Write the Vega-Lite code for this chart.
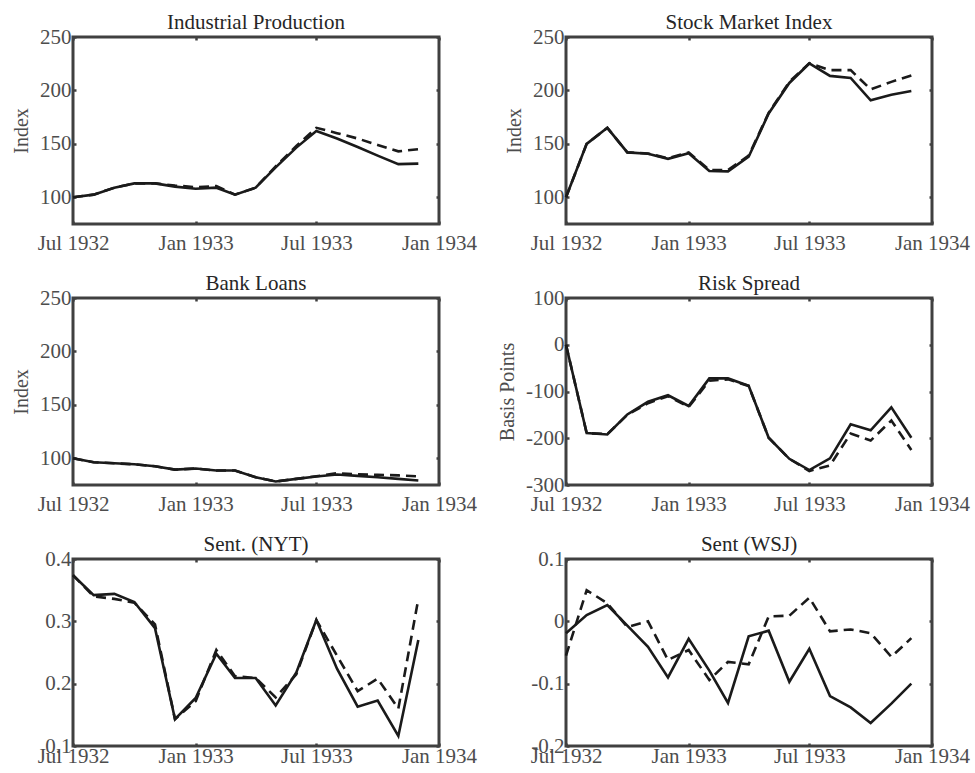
{
  "$schema": "https://vega.github.io/schema/vega-lite/v6.json",
  "padding": {"left": 10, "top": 10, "right": 5, "bottom": 5},
  "background": "white",
  "bounds": "flush",
  "columns": 2,
  "spacing": {"row": 74, "column": 127},
  "data": {
    "values": [
      {"panel": "IP", "date": "1932/07/01", "solid": 100, "dashed": 100},
      {"panel": "IP", "date": "1932/08/01", "solid": 102.5, "dashed": 102.5},
      {"panel": "IP", "date": "1932/09/01", "solid": 109, "dashed": 109},
      {"panel": "IP", "date": "1932/10/01", "solid": 113, "dashed": 113},
      {"panel": "IP", "date": "1932/11/01", "solid": 113, "dashed": 113},
      {"panel": "IP", "date": "1932/12/01", "solid": 110, "dashed": 111},
      {"panel": "IP", "date": "1933/01/01", "solid": 108, "dashed": 109.5},
      {"panel": "IP", "date": "1933/02/01", "solid": 109, "dashed": 110.5},
      {"panel": "IP", "date": "1933/03/01", "solid": 102.5, "dashed": 102.5},
      {"panel": "IP", "date": "1933/04/01", "solid": 109, "dashed": 109},
      {"panel": "IP", "date": "1933/05/01", "solid": 128, "dashed": 129},
      {"panel": "IP", "date": "1933/06/01", "solid": 146.5, "dashed": 148},
      {"panel": "IP", "date": "1933/07/01", "solid": 162, "dashed": 165},
      {"panel": "IP", "date": "1933/08/01", "solid": 155, "dashed": 160},
      {"panel": "IP", "date": "1933/09/01", "solid": 147, "dashed": 155},
      {"panel": "IP", "date": "1933/10/01", "solid": 139, "dashed": 149},
      {"panel": "IP", "date": "1933/11/01", "solid": 131, "dashed": 143},
      {"panel": "IP", "date": "1933/12/01", "solid": 131.5, "dashed": 145},

      {"panel": "SMI", "date": "1932/07/01", "solid": 100, "dashed": 100},
      {"panel": "SMI", "date": "1932/08/01", "solid": 150, "dashed": 150},
      {"panel": "SMI", "date": "1932/09/01", "solid": 165, "dashed": 165},
      {"panel": "SMI", "date": "1932/10/01", "solid": 142, "dashed": 142},
      {"panel": "SMI", "date": "1932/11/01", "solid": 140.7, "dashed": 141},
      {"panel": "SMI", "date": "1932/12/01", "solid": 136, "dashed": 136.5},
      {"panel": "SMI", "date": "1933/01/01", "solid": 141.3, "dashed": 142},
      {"panel": "SMI", "date": "1933/02/01", "solid": 124.6, "dashed": 125.5},
      {"panel": "SMI", "date": "1933/03/01", "solid": 124.3, "dashed": 125.5},
      {"panel": "SMI", "date": "1933/04/01", "solid": 138, "dashed": 139},
      {"panel": "SMI", "date": "1933/05/01", "solid": 178.4, "dashed": 179},
      {"panel": "SMI", "date": "1933/06/01", "solid": 207, "dashed": 208},
      {"panel": "SMI", "date": "1933/07/01", "solid": 225.2, "dashed": 225.5},
      {"panel": "SMI", "date": "1933/08/01", "solid": 213.6, "dashed": 219},
      {"panel": "SMI", "date": "1933/09/01", "solid": 211.7, "dashed": 219},
      {"panel": "SMI", "date": "1933/10/01", "solid": 190.8, "dashed": 201},
      {"panel": "SMI", "date": "1933/11/01", "solid": 196, "dashed": 208},
      {"panel": "SMI", "date": "1933/12/01", "solid": 199.4, "dashed": 214},

      {"panel": "BL", "date": "1932/07/01", "solid": 100, "dashed": 100},
      {"panel": "BL", "date": "1932/08/01", "solid": 96.3, "dashed": 96.3},
      {"panel": "BL", "date": "1932/09/01", "solid": 95.3, "dashed": 95.3},
      {"panel": "BL", "date": "1932/10/01", "solid": 94.4, "dashed": 94.4},
      {"panel": "BL", "date": "1932/11/01", "solid": 92.5, "dashed": 92.5},
      {"panel": "BL", "date": "1932/12/01", "solid": 89.4, "dashed": 89.4},
      {"panel": "BL", "date": "1933/01/01", "solid": 90.4, "dashed": 90.4},
      {"panel": "BL", "date": "1933/02/01", "solid": 88.5, "dashed": 88.5},
      {"panel": "BL", "date": "1933/03/01", "solid": 88.5, "dashed": 88.5},
      {"panel": "BL", "date": "1933/04/01", "solid": 82.3, "dashed": 82.3},
      {"panel": "BL", "date": "1933/05/01", "solid": 78.3, "dashed": 78.3},
      {"panel": "BL", "date": "1933/06/01", "solid": 80.7, "dashed": 80.7},
      {"panel": "BL", "date": "1933/07/01", "solid": 82.9, "dashed": 83.2},
      {"panel": "BL", "date": "1933/08/01", "solid": 84.8, "dashed": 86},
      {"panel": "BL", "date": "1933/09/01", "solid": 83.5, "dashed": 85},
      {"panel": "BL", "date": "1933/10/01", "solid": 82.3, "dashed": 84.5},
      {"panel": "BL", "date": "1933/11/01", "solid": 80.7, "dashed": 84},
      {"panel": "BL", "date": "1933/12/01", "solid": 79.2, "dashed": 83},

      {"panel": "RS", "date": "1932/07/01", "solid": 0, "dashed": 0},
      {"panel": "RS", "date": "1932/08/01", "solid": -189, "dashed": -189},
      {"panel": "RS", "date": "1932/09/01", "solid": -192, "dashed": -191},
      {"panel": "RS", "date": "1932/10/01", "solid": -149, "dashed": -150},
      {"panel": "RS", "date": "1932/11/01", "solid": -122, "dashed": -125},
      {"panel": "RS", "date": "1932/12/01", "solid": -108, "dashed": -110},
      {"panel": "RS", "date": "1933/01/01", "solid": -131, "dashed": -133},
      {"panel": "RS", "date": "1933/02/01", "solid": -72, "dashed": -77},
      {"panel": "RS", "date": "1933/03/01", "solid": -72, "dashed": -74},
      {"panel": "RS", "date": "1933/04/01", "solid": -88, "dashed": -88},
      {"panel": "RS", "date": "1933/05/01", "solid": -199, "dashed": -199},
      {"panel": "RS", "date": "1933/06/01", "solid": -244, "dashed": -244},
      {"panel": "RS", "date": "1933/07/01", "solid": -268, "dashed": -270},
      {"panel": "RS", "date": "1933/08/01", "solid": -243, "dashed": -258},
      {"panel": "RS", "date": "1933/09/01", "solid": -170, "dashed": -190},
      {"panel": "RS", "date": "1933/10/01", "solid": -183, "dashed": -205},
      {"panel": "RS", "date": "1933/11/01", "solid": -134, "dashed": -162},
      {"panel": "RS", "date": "1933/12/01", "solid": -199, "dashed": -225},

      {"panel": "NYT", "date": "1932/07/01", "solid": 0.374, "dashed": 0.374},
      {"panel": "NYT", "date": "1932/08/01", "solid": 0.342, "dashed": 0.340},
      {"panel": "NYT", "date": "1932/09/01", "solid": 0.344, "dashed": 0.336},
      {"panel": "NYT", "date": "1932/10/01", "solid": 0.331, "dashed": 0.330},
      {"panel": "NYT", "date": "1932/11/01", "solid": 0.289, "dashed": 0.295},
      {"panel": "NYT", "date": "1932/12/01", "solid": 0.143, "dashed": 0.143},
      {"panel": "NYT", "date": "1933/01/01", "solid": 0.177, "dashed": 0.172},
      {"panel": "NYT", "date": "1933/02/01", "solid": 0.248, "dashed": 0.254},
      {"panel": "NYT", "date": "1933/03/01", "solid": 0.209, "dashed": 0.212},
      {"panel": "NYT", "date": "1933/04/01", "solid": 0.209, "dashed": 0.209},
      {"panel": "NYT", "date": "1933/05/01", "solid": 0.165, "dashed": 0.178},
      {"panel": "NYT", "date": "1933/06/01", "solid": 0.218, "dashed": 0.215},
      {"panel": "NYT", "date": "1933/07/01", "solid": 0.302, "dashed": 0.302},
      {"panel": "NYT", "date": "1933/08/01", "solid": 0.224, "dashed": 0.245},
      {"panel": "NYT", "date": "1933/09/01", "solid": 0.163, "dashed": 0.188},
      {"panel": "NYT", "date": "1933/10/01", "solid": 0.173, "dashed": 0.208},
      {"panel": "NYT", "date": "1933/11/01", "solid": 0.116, "dashed": 0.160},
      {"panel": "NYT", "date": "1933/12/01", "solid": 0.270, "dashed": 0.336},

      {"panel": "WSJ", "date": "1932/07/01", "solid": -0.019, "dashed": -0.055},
      {"panel": "WSJ", "date": "1932/08/01", "solid": 0.010, "dashed": 0.050},
      {"panel": "WSJ", "date": "1932/09/01", "solid": 0.026, "dashed": 0.029},
      {"panel": "WSJ", "date": "1932/10/01", "solid": -0.007, "dashed": -0.009},
      {"panel": "WSJ", "date": "1932/11/01", "solid": -0.041, "dashed": 0.000},
      {"panel": "WSJ", "date": "1932/12/01", "solid": -0.090, "dashed": -0.062},
      {"panel": "WSJ", "date": "1933/01/01", "solid": -0.028, "dashed": -0.046},
      {"panel": "WSJ", "date": "1933/02/01", "solid": -0.079, "dashed": -0.094},
      {"panel": "WSJ", "date": "1933/03/01", "solid": -0.131, "dashed": -0.065},
      {"panel": "WSJ", "date": "1933/04/01", "solid": -0.024, "dashed": -0.069},
      {"panel": "WSJ", "date": "1933/05/01", "solid": -0.015, "dashed": 0.008},
      {"panel": "WSJ", "date": "1933/06/01", "solid": -0.097, "dashed": 0.009},
      {"panel": "WSJ", "date": "1933/07/01", "solid": -0.044, "dashed": 0.038},
      {"panel": "WSJ", "date": "1933/08/01", "solid": -0.120, "dashed": -0.016},
      {"panel": "WSJ", "date": "1933/09/01", "solid": -0.138, "dashed": -0.013},
      {"panel": "WSJ", "date": "1933/10/01", "solid": -0.163, "dashed": -0.019},
      {"panel": "WSJ", "date": "1933/11/01", "solid": -0.132, "dashed": -0.057},
      {"panel": "WSJ", "date": "1933/12/01", "solid": -0.100, "dashed": -0.027}
    ],
    "format": {"parse": {"date": "date"}}
  },
  "concat": [
    {
      "title": "Industrial Production",
      "width": 366, "height": 187,
      "transform": [{"filter": "datum.panel === 'IP'"}],
      "layer": [
        {"mark": {"type": "line", "strokeDash": [10, 6]},
         "encoding": {
           "x": {"field": "date", "type": "temporal", "scale": {"domain": [{"year": 1932, "month": 7, "date": 1}, {"year": 1934, "month": 1, "date": 1}]}, "axis": {"orient": "top", "labels": false, "title": null, "values": [{"year": 1932, "month": 7, "date": 1}, {"year": 1933, "month": 1, "date": 1}, {"year": 1933, "month": 7, "date": 1}, {"year": 1934, "month": 1, "date": 1}]}},
           "y": {"field": "dashed", "type": "quantitative", "scale": {"domain": [75, 250], "nice": false, "zero": false}, "axis": {"orient": "right", "labels": false, "title": null, "values": [100, 150, 200, 250]}}}},
        {"mark": {"type": "line"},
         "encoding": {
           "x": {"field": "date", "type": "temporal", "axis": {"orient": "bottom", "format": "%b %Y", "title": null, "values": [{"year": 1932, "month": 7, "date": 1}, {"year": 1933, "month": 1, "date": 1}, {"year": 1933, "month": 7, "date": 1}, {"year": 1934, "month": 1, "date": 1}]}},
           "y": {"field": "solid", "type": "quantitative", "axis": {"orient": "left", "title": "Index", "labelExpr": "'' + datum.value", "values": [100, 150, 200, 250]}}}}
      ],
      "resolve": {"axis": {"x": "independent", "y": "independent"}}
    },
    {
      "title": "Stock Market Index",
      "width": 366, "height": 187,
      "transform": [{"filter": "datum.panel === 'SMI'"}],
      "layer": [
        {"mark": {"type": "line", "strokeDash": [10, 6]},
         "encoding": {
           "x": {"field": "date", "type": "temporal", "scale": {"domain": [{"year": 1932, "month": 7, "date": 1}, {"year": 1934, "month": 1, "date": 1}]}, "axis": {"orient": "top", "labels": false, "title": null, "values": [{"year": 1932, "month": 7, "date": 1}, {"year": 1933, "month": 1, "date": 1}, {"year": 1933, "month": 7, "date": 1}, {"year": 1934, "month": 1, "date": 1}]}},
           "y": {"field": "dashed", "type": "quantitative", "scale": {"domain": [75, 250], "nice": false, "zero": false}, "axis": {"orient": "right", "labels": false, "title": null, "values": [100, 150, 200, 250]}}}},
        {"mark": {"type": "line"},
         "encoding": {
           "x": {"field": "date", "type": "temporal", "axis": {"orient": "bottom", "format": "%b %Y", "title": null, "values": [{"year": 1932, "month": 7, "date": 1}, {"year": 1933, "month": 1, "date": 1}, {"year": 1933, "month": 7, "date": 1}, {"year": 1934, "month": 1, "date": 1}]}},
           "y": {"field": "solid", "type": "quantitative", "axis": {"orient": "left", "title": "Index", "labelExpr": "'' + datum.value", "values": [100, 150, 200, 250]}}}}
      ],
      "resolve": {"axis": {"x": "independent", "y": "independent"}}
    },
    {
      "title": "Bank Loans",
      "width": 366, "height": 187,
      "transform": [{"filter": "datum.panel === 'BL'"}],
      "layer": [
        {"mark": {"type": "line", "strokeDash": [10, 6]},
         "encoding": {
           "x": {"field": "date", "type": "temporal", "scale": {"domain": [{"year": 1932, "month": 7, "date": 1}, {"year": 1934, "month": 1, "date": 1}]}, "axis": {"orient": "top", "labels": false, "title": null, "values": [{"year": 1932, "month": 7, "date": 1}, {"year": 1933, "month": 1, "date": 1}, {"year": 1933, "month": 7, "date": 1}, {"year": 1934, "month": 1, "date": 1}]}},
           "y": {"field": "dashed", "type": "quantitative", "scale": {"domain": [75, 250], "nice": false, "zero": false}, "axis": {"orient": "right", "labels": false, "title": null, "values": [100, 150, 200, 250]}}}},
        {"mark": {"type": "line"},
         "encoding": {
           "x": {"field": "date", "type": "temporal", "axis": {"orient": "bottom", "format": "%b %Y", "title": null, "values": [{"year": 1932, "month": 7, "date": 1}, {"year": 1933, "month": 1, "date": 1}, {"year": 1933, "month": 7, "date": 1}, {"year": 1934, "month": 1, "date": 1}]}},
           "y": {"field": "solid", "type": "quantitative", "axis": {"orient": "left", "title": "Index", "labelExpr": "'' + datum.value", "values": [100, 150, 200, 250]}}}}
      ],
      "resolve": {"axis": {"x": "independent", "y": "independent"}}
    },
    {
      "title": "Risk Spread",
      "width": 366, "height": 187,
      "transform": [{"filter": "datum.panel === 'RS'"}],
      "layer": [
        {"mark": {"type": "line", "strokeDash": [10, 6]},
         "encoding": {
           "x": {"field": "date", "type": "temporal", "scale": {"domain": [{"year": 1932, "month": 7, "date": 1}, {"year": 1934, "month": 1, "date": 1}]}, "axis": {"orient": "top", "labels": false, "title": null, "values": [{"year": 1932, "month": 7, "date": 1}, {"year": 1933, "month": 1, "date": 1}, {"year": 1933, "month": 7, "date": 1}, {"year": 1934, "month": 1, "date": 1}]}},
           "y": {"field": "dashed", "type": "quantitative", "scale": {"domain": [-300, 100], "nice": false, "zero": false}, "axis": {"orient": "right", "labels": false, "title": null, "values": [-300, -200, -100, 0, 100]}}}},
        {"mark": {"type": "line"},
         "encoding": {
           "x": {"field": "date", "type": "temporal", "axis": {"orient": "bottom", "format": "%b %Y", "title": null, "values": [{"year": 1932, "month": 7, "date": 1}, {"year": 1933, "month": 1, "date": 1}, {"year": 1933, "month": 7, "date": 1}, {"year": 1934, "month": 1, "date": 1}]}},
           "y": {"field": "solid", "type": "quantitative", "axis": {"orient": "left", "title": "Basis Points", "labelExpr": "'' + datum.value", "values": [-300, -200, -100, 0, 100]}}}}
      ],
      "resolve": {"axis": {"x": "independent", "y": "independent"}}
    },
    {
      "title": "Sent. (NYT)",
      "width": 366, "height": 187,
      "transform": [{"filter": "datum.panel === 'NYT'"}],
      "layer": [
        {"mark": {"type": "line", "strokeDash": [10, 6]},
         "encoding": {
           "x": {"field": "date", "type": "temporal", "scale": {"domain": [{"year": 1932, "month": 7, "date": 1}, {"year": 1934, "month": 1, "date": 1}]}, "axis": {"orient": "top", "labels": false, "title": null, "values": [{"year": 1932, "month": 7, "date": 1}, {"year": 1933, "month": 1, "date": 1}, {"year": 1933, "month": 7, "date": 1}, {"year": 1934, "month": 1, "date": 1}]}},
           "y": {"field": "dashed", "type": "quantitative", "scale": {"domain": [0.1, 0.4], "nice": false, "zero": false}, "axis": {"orient": "right", "labels": false, "title": null, "values": [0.1, 0.2, 0.3, 0.4]}}}},
        {"mark": {"type": "line"},
         "encoding": {
           "x": {"field": "date", "type": "temporal", "axis": {"orient": "bottom", "format": "%b %Y", "title": null, "labelPadding": 2, "values": [{"year": 1932, "month": 7, "date": 1}, {"year": 1933, "month": 1, "date": 1}, {"year": 1933, "month": 7, "date": 1}, {"year": 1934, "month": 1, "date": 1}]}},
           "y": {"field": "solid", "type": "quantitative", "axis": {"orient": "left", "title": null, "labelExpr": "'' + datum.value", "values": [0.1, 0.2, 0.3, 0.4]}}}}
      ],
      "resolve": {"axis": {"x": "independent", "y": "independent"}}
    },
    {
      "title": "Sent (WSJ)",
      "width": 366, "height": 187,
      "transform": [{"filter": "datum.panel === 'WSJ'"}],
      "layer": [
        {"mark": {"type": "line", "strokeDash": [10, 6]},
         "encoding": {
           "x": {"field": "date", "type": "temporal", "scale": {"domain": [{"year": 1932, "month": 7, "date": 1}, {"year": 1934, "month": 1, "date": 1}]}, "axis": {"orient": "top", "labels": false, "title": null, "values": [{"year": 1932, "month": 7, "date": 1}, {"year": 1933, "month": 1, "date": 1}, {"year": 1933, "month": 7, "date": 1}, {"year": 1934, "month": 1, "date": 1}]}},
           "y": {"field": "dashed", "type": "quantitative", "scale": {"domain": [-0.2, 0.1], "nice": false, "zero": false}, "axis": {"orient": "right", "labels": false, "title": null, "values": [-0.2, -0.1, 0, 0.1]}}}},
        {"mark": {"type": "line"},
         "encoding": {
           "x": {"field": "date", "type": "temporal", "axis": {"orient": "bottom", "format": "%b %Y", "title": null, "labelPadding": 2, "values": [{"year": 1932, "month": 7, "date": 1}, {"year": 1933, "month": 1, "date": 1}, {"year": 1933, "month": 7, "date": 1}, {"year": 1934, "month": 1, "date": 1}]}},
           "y": {"field": "solid", "type": "quantitative", "axis": {"orient": "left", "title": null, "labelExpr": "'' + datum.value", "values": [-0.2, -0.1, 0, 0.1]}}}}
      ],
      "resolve": {"axis": {"x": "independent", "y": "independent"}}
    }
  ],
  "config": {
    "font": "Liberation Serif",
    "view": {"stroke": "#404040", "strokeWidth": 3},
    "axis": {
      "domain": false, "grid": false,
      "tickSize": -3, "tickWidth": 2.5, "tickColor": "#404040",
      "labelFont": "Liberation Serif", "labelFontSize": 21, "labelColor": "#4d4d4d",
      "labelFlush": false, "labelOverlap": false, "labelPadding": 11.5,
      "titleFont": "Liberation Serif", "titleFontSize": 20, "titleFontWeight": "normal", "titleColor": "#4d4d4d", "titlePadding": 8
    },
    "axisY": {"labelPadding": 5},
    "title": {"font": "Liberation Serif", "fontSize": 21, "fontWeight": "normal", "color": "#262626", "offset": -7},
    "line": {"stroke": "#1a1a1a", "strokeWidth": 2.6}
  }
}
